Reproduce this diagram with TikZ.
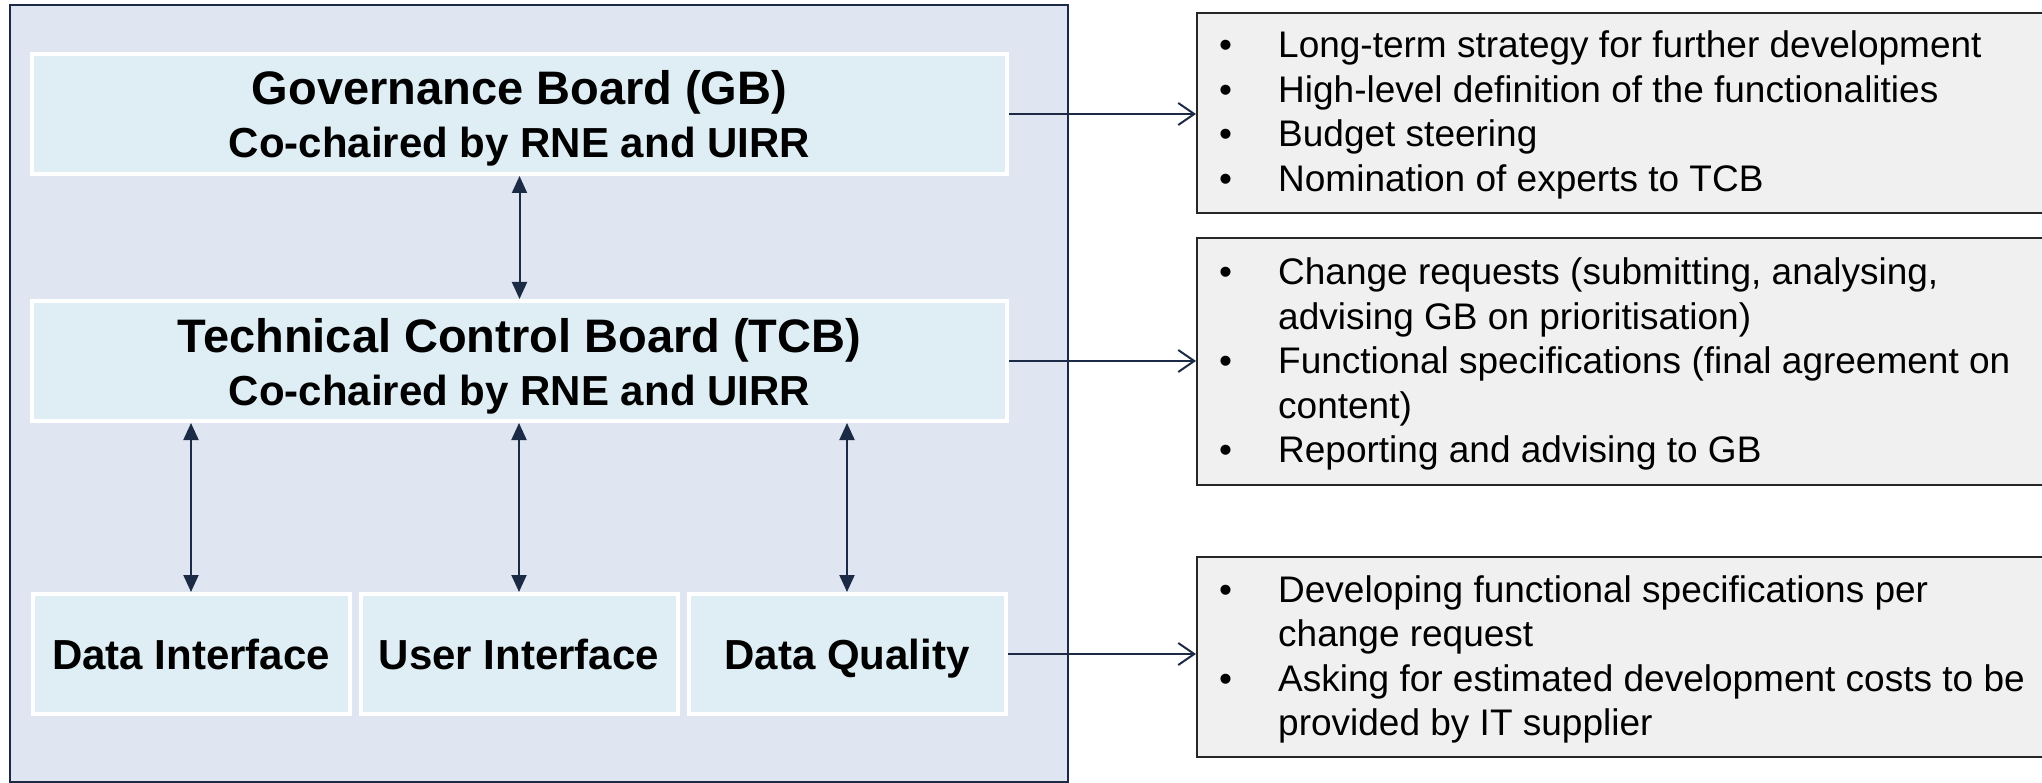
\documentclass[tikz,border=0pt]{standalone}
\usepackage{fontspec}
\setmainfont{Liberation Sans}
\usetikzlibrary{arrows.meta, positioning}

\definecolor{panelblue}{HTML}{DFE6F2}
\definecolor{boardfill}{HTML}{DEEEF4}
\definecolor{navy}{HTML}{1C2B45}
\definecolor{notegray}{HTML}{F0F0F0}

\newcommand{\titlesize}{\fontsize{47}{53}\selectfont}

\begin{document}
\begin{tikzpicture}[x=1pt, y=-1pt,
  panel/.style   = {draw=navy, line width=2pt, fill=panelblue, inner sep=0pt},
  board/.style   = {draw=white, line width=4pt, fill=boardfill, inner sep=0pt,
                    font=\fontsize{42}{53}\selectfont\bfseries, align=center},
  council/.style = {board, minimum width=975pt, minimum height=120pt,
                    text height=97pt, text depth=9pt},
  team/.style    = {board, minimum width=317pt, minimum height=120pt,
                    text height=31pt, text depth=0pt},
  note/.style    = {draw=black!85, line width=2pt, fill=notegray,
                    minimum width=863pt, inner sep=0pt},
  bullets/.style = {inner sep=0pt, anchor=base west,
                    font=\fontsize{37}{44.5}\selectfont},
  link/.style    = {draw=navy, line width=2pt,
                    {Triangle[length=17pt,width=15pt]}-{Triangle[length=17pt,width=15pt]}},
  feed/.style    = {draw=navy, line width=2pt,
                    -{Straight Barb[length=16pt,width=22pt]}},
  ]
  \useasboundingbox (0,0) rectangle (2042,783);

  % left panel with the boards
  \node[panel, minimum width=1058pt, minimum height=777pt] (panel) at (539,393.5) {};
  \node[council] (gb) at (519.5,114)
    {{\titlesize Governance Board (GB)}\\Co-chaired by RNE and UIRR};
  \node[council] (tcb) at (519.5,361)
    {{\titlesize Technical Control Board (TCB)}\\Co-chaired by RNE and UIRR};
  \node[team] (ui) at (519,654) {User Interface};
  \node[team, left=7pt of ui] (di) {Data Interface};
  \node[team, right=7pt of ui] (dq) {Data Quality};

  \draw[link] (gb) -- (tcb);
  \draw[link] (di.north) -- (di.north |- tcb.south);
  \draw[link] (ui.north) -- (ui.north |- tcb.south);
  \draw[link] (dq.north) -- (dq.north |- tcb.south);

  % task lists
  \node[note, minimum height=200pt] (r1) at (1628.5,113) {};
  \node[note, minimum height=247pt] (r2) at (1628.5,361.5) {};
  \node[note, minimum height=200pt] (r3) at (1628.5,657) {};

  \node[bullets] (t1) at (1219,58) {\begin{tabular}[t]{@{}p{59pt}@{}l@{}}
    \textbullet & Long-term strategy for further development\\
    \textbullet & High-level definition of the functionalities\\
    \textbullet & Budget steering\\
    \textbullet & Nomination of experts to TCB
  \end{tabular}};
  \node[bullets] (t2) at (1219,285) {\begin{tabular}[t]{@{}p{59pt}@{}l@{}}
    \textbullet & Change requests (submitting, analysing,\\
                & advising GB on prioritisation)\\
    \textbullet & Functional specifications (final agreement on\\
                & content)\\
    \textbullet & Reporting and advising to GB
  \end{tabular}};
  \node[bullets] (t3) at (1219,602) {\begin{tabular}[t]{@{}p{59pt}@{}l@{}}
    \textbullet & Developing functional specifications per\\
                & change request\\
    \textbullet & Asking for estimated development costs to be\\
                & provided by IT supplier
  \end{tabular}};

  \draw[feed] (gb.east) -- (gb.east -| r1.west);
  \draw[feed] (tcb.east) -- (tcb.east -| r2.west);
  \draw[feed] (dq.east) -- (dq.east -| r3.west);
\end{tikzpicture}
\end{document}
